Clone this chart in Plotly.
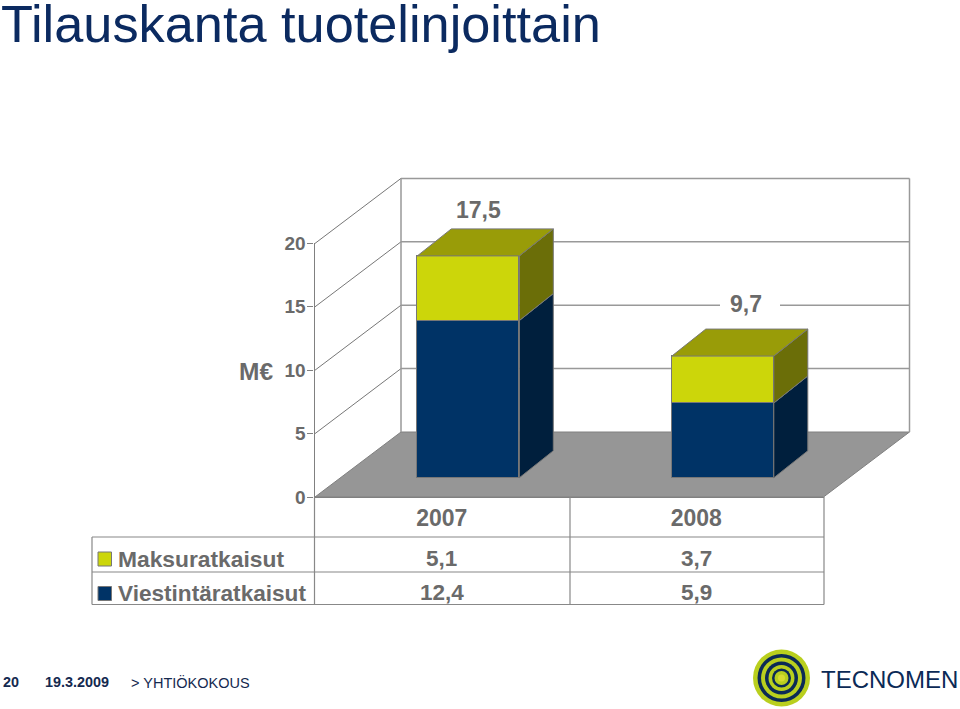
import plotly.graph_objects as go

W, H = 960, 709

# ---- data ----
years = ["2007", "2008"]
maksu_name = "Maksuratkaisut"
viesti_name = "Viestintäratkaisut"
maksu = [5.1, 3.7]
viesti = [12.4, 5.9]
totals = [17.5, 9.7]
total_labels = ["17,5", "9,7"]
maksu_labels = ["5,1", "3,7"]
viesti_labels = ["12,4", "5,9"]
y_ticks = [0, 5, 10, 15, 20]

# ---- colours ----
NAVY, NAVY_SIDE = "#003366", "#001f3d"
LIME, LIME_SIDE, LIME_TOP = "#ccd60a", "#6b6e08", "#999c08"
GREY_TXT, GRID, EDGE = "#6a6a6a", "#999999", "#777777"
TITLE_C, FOOT_C = "#0b2a60", "#14294f"
FONT = "Liberation Sans"

# ---- projection: scale of the chart in pixels ----
PX_PER_UNIT = 12.68
PX_PER_CAT = 254.5
BAR_W = 102 / PX_PER_CAT
CAT0_PX, BASE_PX = 468.3, 477.8
PLOT_L, PLOT_R, PLOT_T, PLOT_B = 300, 925, 165, 505


def X(px):
    return (px - CAT0_PX) / PX_PER_CAT


def Y(px):
    return (BASE_PX - px) / PX_PER_UNIT


def px_x(px):
    return px / W


def px_y(py):
    return 1 - py / H


# depth of the bars and of the floor, in data units
BAR_DX, BAR_DY = 34 / PX_PER_CAT, 27 / PX_PER_UNIT
FLOOR_DX, FLOOR_DY = 86 / PX_PER_CAT, 65 / PX_PER_UNIT
F_L, F_R, F_0 = X(315), X(823.5), Y(497)


def path(points):
    return "M" + "L".join(f"{a:.4f},{b:.4f}" for a, b in points) + "Z"


shapes = []
# floor
shapes.append(dict(type="path", layer="below", xref="x", yref="y", fillcolor="#969696",
                   line=dict(color="#808080", width=1),
                   path=path([(F_L, F_0), (F_R, F_0), (F_R + FLOOR_DX, F_0 + FLOOR_DY), (F_L + FLOOR_DX, F_0 + FLOOR_DY)])))
# walls and gridlines
for t in y_ticks[1:]:
    yf = F_0 + t
    yb = yf + FLOOR_DY
    shapes.append(dict(type="line", layer="below", xref="x", yref="y", x0=F_L, y0=yf, x1=F_L + FLOOR_DX, y1=yb,
                       line=dict(color="#777777", width=1)))
    shapes.append(dict(type="line", layer="below", xref="x", yref="y", x0=F_L + FLOOR_DX, y0=yb, x1=F_R + FLOOR_DX, y1=yb,
                       line=dict(color=GRID, width=1.5)))
for xv in (F_L + FLOOR_DX, F_R + FLOOR_DX):
    shapes.append(dict(type="line", layer="below", xref="x", yref="y", x0=xv, y0=F_0 + FLOOR_DY, x1=xv, y1=F_0 + FLOOR_DY + y_ticks[-1],
                       line=dict(color=GRID, width=1.5)))
# white gap behind the second total label
shapes.append(dict(type="rect", layer="below", xref="x", yref="y", x0=X(720), x1=X(780), y0=Y(312), y1=Y(296),
                   fillcolor="white", line=dict(width=0)))

# table frame
TBL_L, TBL_1, TBL_2, TBL_3 = 92, 314.5, 570, 824
TBL_TOP, ROW0, ROW1, ROW2 = 497, 537, 572, 604.5
for x0, x1, y0, y1 in [
    (TBL_L, TBL_3, ROW0, ROW0), (TBL_L, TBL_3, ROW1, ROW1), (TBL_L, TBL_3, ROW2, ROW2),
    (TBL_L, TBL_L, ROW0, ROW2), (TBL_1, TBL_1, TBL_TOP, ROW2), (TBL_2, TBL_2, TBL_TOP, ROW2), (TBL_3, TBL_3, TBL_TOP, ROW2),
]:
    shapes.append(dict(type="line", xref="paper", yref="paper", x0=px_x(x0), x1=px_x(x1), y0=px_y(y0), y1=px_y(y1),
                       line=dict(color="#888888", width=1.2)))
# legend keys in table
for y_c, col in [(559, LIME), (593.5, NAVY)]:
    shapes.append(dict(type="rect", xref="paper", yref="paper", x0=px_x(98), x1=px_x(111.5), y0=px_y(y_c - 7), y1=px_y(y_c + 7),
                       fillcolor=col, line=dict(color="#777777", width=1)))
# logo rings
LOGO_X, LOGO_Y = 781.5, 678
for r, col in [(28.5, "#b9cf1e"), (24, "#0b2a56"), (20.5, "#b9cf1e"), (16.5, "#0b2a56"), (13, "#b9cf1e"), (9.5, "#0b2a56"), (7, "#b9cf1e"), (3.5, "#d8dc30")]:
    shapes.append(dict(type="circle", xref="paper", yref="paper", x0=px_x(LOGO_X - r), x1=px_x(LOGO_X + r), y0=px_y(LOGO_Y - r), y1=px_y(LOGO_Y + r),
                       fillcolor=col, line=dict(width=0)))

fig = go.Figure()
xs = list(range(len(years)))
# front faces
fig.add_bar(x=xs, y=viesti, name=viesti_name, width=BAR_W, marker=dict(color=NAVY, line=dict(color=EDGE, width=1)), xaxis="x", yaxis="y")
fig.add_bar(x=xs, y=maksu, name=maksu_name, width=BAR_W, marker=dict(color=LIME, line=dict(color=EDGE, width=1)), xaxis="x", yaxis="y")


def face(pts, color):
    fig.add_scatter(x=[p[0] for p in pts] + [pts[0][0]], y=[p[1] for p in pts] + [pts[0][1]], mode="lines",
                    fill="toself", fillcolor=color, line=dict(color=EDGE, width=1), hoverinfo="skip", showlegend=False,
                    xaxis="x", yaxis="y")


# depth faces
for i in xs:
    l, r = xs[i] - BAR_W / 2, xs[i] + BAR_W / 2
    v, top = viesti[i], viesti[i] + maksu[i]
    face([(r, 0), (r + BAR_DX, BAR_DY), (r + BAR_DX, v + BAR_DY), (r, v)], NAVY_SIDE)
    face([(r, v), (r + BAR_DX, v + BAR_DY), (r + BAR_DX, top + BAR_DY), (r, top)], LIME_SIDE)
    face([(l, top), (r, top), (r + BAR_DX, top + BAR_DY), (l + BAR_DX, top + BAR_DY)], LIME_TOP)

# subplot that carries the value axis and the year labels of the data table
fig.add_scatter(x=[0, 1], y=[0, 0], mode="markers", marker=dict(opacity=0), hoverinfo="skip", showlegend=False, xaxis="x2", yaxis="y2")

ann = []


def text(s, x, y, size, color=GREY_TXT, bold=True, xanchor="center", xref="paper"):
    ann.append(dict(text=f"<b>{s}</b>" if bold else s, x=x, y=y, xref=xref, yref="paper", xanchor=xanchor, yanchor="middle",
                    showarrow=False, font=dict(family=FONT, size=size, color=color)))


# total labels over the bars
for lbl, xp, yp in zip(total_labels, [478.5, 746], [210, 304]):
    text(lbl, px_x(xp), px_y(yp), 23)
text("M€", px_x(256), px_y(371), 24.5)
# table contents
text(maksu_name, px_x(116), px_y(559), 22.8, xanchor="left")
text(viesti_name, px_x(116), px_y(593), 22.6, xanchor="left")
for i in xs:
    text(maksu_labels[i], i, px_y(558.5), 22.5, xref="x2")
    text(viesti_labels[i], i, px_y(592.5), 22.5, xref="x2")
# footer
text("20", px_x(1), px_y(682), 14.4, color=FOOT_C, xanchor="left")
text("19.3.2009", px_x(43), px_y(682), 14.4, color=FOOT_C, xanchor="left")
text("&gt; YHTIÖKOKOUS", px_x(129), px_y(682), 14.5, color=FOOT_C, bold=False, xanchor="left")
text("TECNOMEN", px_x(819), px_y(679), 24, color="#0b2a56", bold=False, xanchor="left")

fig.update_layout(
    template="none",
    width=W, height=H, margin=dict(l=0, r=0, t=0, b=0), autosize=False,
    paper_bgcolor="white", plot_bgcolor="rgba(0,0,0,0)",
    barmode="stack", bargap=0, showlegend=False,
    title=dict(text="Tilauskanta tuotelinjoittain", x=px_x(1), xref="paper", xanchor="left",
               y=px_y(24), yref="paper", yanchor="middle", font=dict(family=FONT, size=52.3, color=TITLE_C)),
    shapes=shapes, annotations=ann,
    xaxis=dict(domain=[px_x(PLOT_L), px_x(PLOT_R)], range=[X(PLOT_L), X(PLOT_R)], visible=False, fixedrange=True),
    yaxis=dict(domain=[px_y(PLOT_B), px_y(PLOT_T)], range=[Y(PLOT_B), Y(PLOT_T)], visible=False, fixedrange=True),
    xaxis2=dict(domain=[px_x(314.5), px_x(823.5)], range=[-0.5, 1.5], anchor="y2", tickmode="array", tickvals=xs,
                ticktext=[f"<b>{y}</b>" for y in years],
                showgrid=False, zeroline=False, showline=True, linecolor="#808080", linewidth=1.2,
                ticks="", automargin=False,
                tickfont=dict(family=FONT, size=23, color=GREY_TXT), fixedrange=True),
    yaxis2=dict(domain=[px_y(497), px_y(243)], range=[y_ticks[0], y_ticks[-1]], anchor="x2", tickmode="array", tickvals=y_ticks,
                ticktext=[f"<b>{t}</b>" for t in y_ticks],
                showgrid=False, zeroline=False, showline=True, linecolor="#808080", linewidth=1.2,
                ticks="outside", ticklen=6, tickcolor="#808080", automargin=False, ticklabelstandoff=-2,
                tickfont=dict(family=FONT, size=19, color=GREY_TXT), fixedrange=True),
)
fig.write_html("out.html", config={"displayModeBar": False}, post_script="document.body.style.margin='0';")
